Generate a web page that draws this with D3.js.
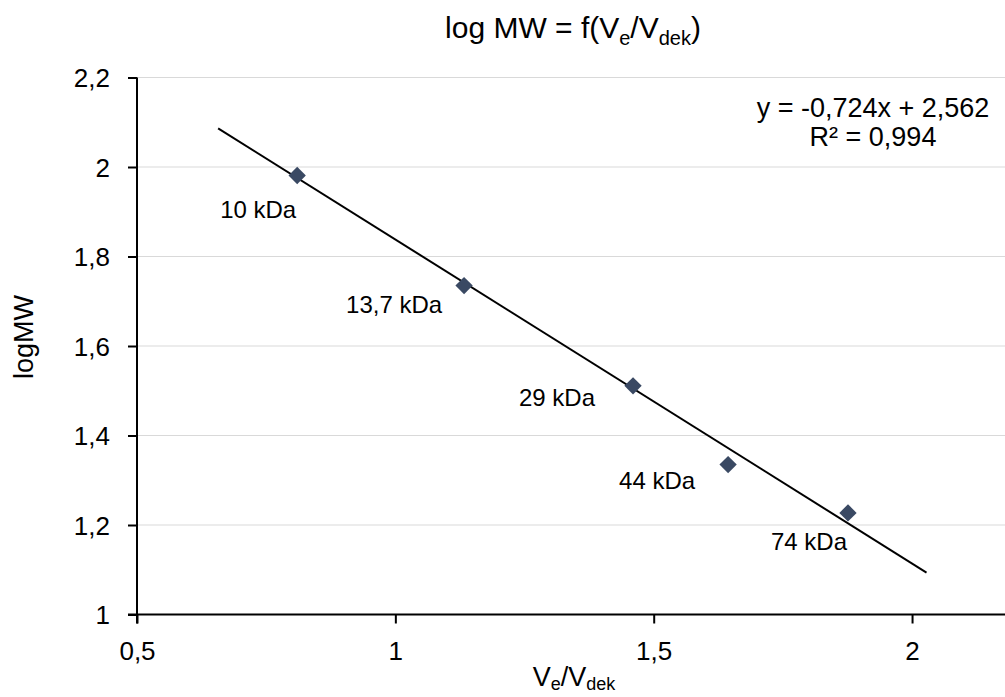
<!DOCTYPE html>
<html>
<head>
<meta charset="utf-8">
<script src="https://cdn.jsdelivr.net/npm/d3@7"></script>
<style>
  body { margin: 0; background: #fff; }
  text { font-family: "Liberation Sans", Arial, sans-serif; fill: #000; }
</style>
</head>
<body>
<div id="chart"></div>
<script>
// data
var veVdek = [0.81, 1.133, 1.46, 1.644, 1.876];
var logMW = [1.981, 1.735, 1.511, 1.335, 1.227];
var labels = ["10 kDa", "13,7 kDa", "29 kDa", "44 kDa", "74 kDa"];
var xTicks = [0.5, 1, 1.5, 2];
var yTicks = [1, 1.2, 1.4, 1.6, 1.8, 2, 2.2];
var slope = -0.724, intercept = 2.562;
var trendRange = [0.657, 2.028];

var svgWidth = 1005;
var svgHeight = 697;

var svg = d3.select("#chart")
  .append("svg")
  .attr("width", svgWidth)
  .attr("height", svgHeight);

var fmt = function(d) { return String(d).replace(".", ","); };

// scales - x axis runs past the right edge (cropped)
var x = d3.scaleLinear().domain([0.5, 2.2]).range([137, 137 + 1.7 * 516.7]);
var y = d3.scaleLinear().domain([1, 2.2]).range([614.5, 77.5]);

// gridlines
svg.append("g")
  .selectAll("line")
  .data(yTicks.slice(1))
  .enter()
  .append("line")
  .attr("x1", x(0.5))
  .attr("x2", svgWidth)
  .attr("y1", d => y(d))
  .attr("y2", d => y(d))
  .attr("stroke", "#d9d9d9")
  .attr("stroke-width", 1);

// axes
var bottomAxis = d3.axisBottom(x).tickValues(xTicks).tickFormat(fmt).tickSize(9).tickPadding(6);
var leftAxis = d3.axisLeft(y).tickValues(yTicks).tickFormat(fmt).tickSize(9).tickPadding(18);

var gx = svg.append("g")
  .attr("transform", `translate(0, ${y(1)})`)
  .call(bottomAxis);
gx.select(".domain").remove();
gx.append("line")
  .attr("x1", x(0.5) - 9).attr("x2", svgWidth)
  .attr("stroke", "#000").attr("stroke-width", 2);

var gy = svg.append("g")
  .attr("transform", `translate(${x(0.5)}, 0)`)
  .call(leftAxis);
gy.select(".domain").remove();
gy.append("line")
  .attr("y1", y(2.2)).attr("y2", y(1) + 9)
  .attr("stroke", "#000").attr("stroke-width", 2);

[gx, gy].forEach(function(g) {
  g.selectAll(".tick line").attr("stroke", "#000").attr("stroke-width", 2);
  g.selectAll(".tick text")
    .attr("font-family", "Liberation Sans, Arial, sans-serif")
    .attr("font-size", 26)
    .attr("fill", "#000");
});
gy.selectAll(".tick text").attr("dy", "0.36em");
gx.selectAll(".tick text").attr("y", 45).attr("dy", 0);

// trend line
svg.append("line")
  .attr("x1", x(trendRange[0]))
  .attr("y1", y(slope * trendRange[0] + intercept))
  .attr("x2", x(trendRange[1]))
  .attr("y2", y(slope * trendRange[1] + intercept))
  .attr("stroke", "#000")
  .attr("stroke-width", 2);

// markers
svg.append("g")
  .selectAll("path")
  .data(veVdek)
  .enter()
  .append("path")
  .attr("d", d3.symbol().type(d3.symbolSquare).size(150))
  .attr("transform", (d, i) => `translate(${x(d)}, ${y(logMW[i])}) rotate(45)`)
  .attr("fill", "#3a4963");

// point labels (Excel-style, placed below-left)
var labelOffsets = [[-39, 42], [-70, 27], [-76, 20], [-71, 24], [-39, 37]];
svg.append("g")
  .selectAll("text")
  .data(labels)
  .enter()
  .append("text")
  .attr("x", (d, i) => x(veVdek[i]) + labelOffsets[i][0])
  .attr("y", (d, i) => y(logMW[i]) + labelOffsets[i][1])
  .attr("text-anchor", "middle")
  .attr("font-size", 24)
  .text(d => d);

// equation
var eq = svg.append("text")
  .attr("x", 873)
  .attr("y", 117)
  .attr("text-anchor", "middle")
  .attr("font-size", 27);
eq.append("tspan").attr("x", 873).text("y = -0,724x + 2,562");
eq.append("tspan").attr("x", 873).attr("dy", 29).text("R\u00b2 = 0,994");

// title
var title = svg.append("text")
  .attr("x", 573)
  .attr("y", 38)
  .attr("text-anchor", "middle")
  .attr("font-size", 30);
title.append("tspan").text("log MW = f(V");
title.append("tspan").attr("font-size", 20).attr("dy", 7).text("e");
title.append("tspan").attr("dy", -7).text("/V");
title.append("tspan").attr("font-size", 20).attr("dy", 7).text("dek");
title.append("tspan").attr("dy", -7).text(")");

// axis titles
svg.append("text")
  .attr("transform", "translate(33, 337) rotate(-90)")
  .attr("text-anchor", "middle")
  .attr("font-size", 27)
  .text("logMW");

var xt = svg.append("text")
  .attr("x", 574)
  .attr("y", 686)
  .attr("text-anchor", "middle")
  .attr("font-size", 27);
xt.append("tspan").text("V");
xt.append("tspan").attr("font-size", 18).attr("dy", 4).text("e");
xt.append("tspan").attr("dy", -4).text("/V");
xt.append("tspan").attr("font-size", 18).attr("dy", 4).text("dek");
</script>
</body>
</html>
